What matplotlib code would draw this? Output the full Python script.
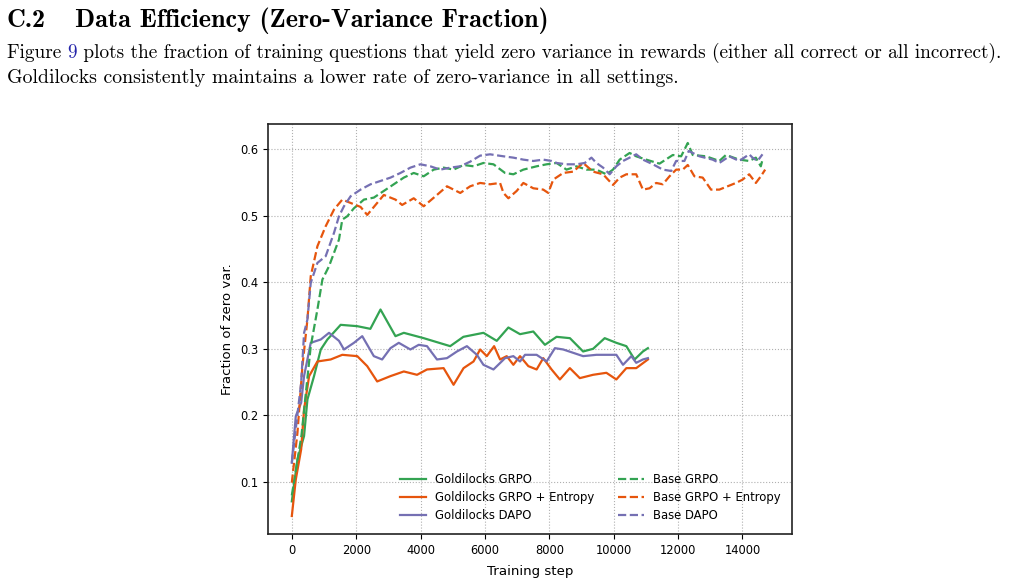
import matplotlib
matplotlib.use("Agg")
import matplotlib.pyplot as plt

# ---------------- data ----------------
gold_grpo_x = [0, 175, 380, 485, 690, 900, 1105, 1517, 2033, 2440, 2755, 3220, 3480, 4097, 4920, 5330,
               5953, 6367, 6728, 7090, 7502, 7864, 8226, 8640, 9050, 9360, 9721, 10083, 10393, 10650, 10908, 11063]
gold_grpo_y = [0.071, 0.134, 0.169, 0.224, 0.259, 0.299, 0.314, 0.336, 0.334, 0.330, 0.359, 0.319, 0.324, 0.316, 0.304, 0.318,
               0.324, 0.312, 0.332, 0.322, 0.326, 0.306, 0.318, 0.316, 0.296, 0.300, 0.316, 0.309, 0.304, 0.284, 0.296, 0.301]

gold_ent_x = [0, 124, 290, 380, 537, 795, 1207, 1568, 2033, 2342, 2652, 3065, 3480, 3890, 4200, 4716, 5025, 5336,
              5645, 5851, 6058, 6285, 6470, 6677, 6883, 7090, 7348, 7606, 7812, 8070, 8328, 8638, 8948, 9360, 9773,
              10083, 10393, 10700, 11063]
gold_ent_y = [0.049, 0.104, 0.149, 0.209, 0.259, 0.281, 0.284, 0.291, 0.289, 0.274, 0.251, 0.259, 0.266, 0.261, 0.269, 0.271, 0.246, 0.271,
              0.281, 0.299, 0.289, 0.304, 0.284, 0.289, 0.276, 0.289, 0.274, 0.269, 0.286, 0.269, 0.254, 0.271, 0.256, 0.261, 0.264,
              0.254, 0.271, 0.271, 0.284]

gold_dapo_x = [0, 124, 290, 380, 588, 900, 1156, 1465, 1620, 1930, 2188, 2548, 2806, 3065, 3323, 3684, 3943, 4200,
               4510, 4820, 5130, 5440, 5750, 5953, 6265, 6625, 6883, 7090, 7245, 7606, 7916, 8174, 8432, 8742, 9050,
               9463, 9876, 10083, 10290, 10548, 10700, 10908, 11063]
gold_dapo_y = [0.129, 0.199, 0.219, 0.259, 0.309, 0.314, 0.324, 0.312, 0.299, 0.309, 0.319, 0.289, 0.284, 0.301, 0.309, 0.299, 0.306, 0.304,
               0.284, 0.286, 0.296, 0.304, 0.291, 0.276, 0.269, 0.286, 0.289, 0.281, 0.291, 0.291, 0.281, 0.301, 0.299, 0.294, 0.289,
               0.291, 0.291, 0.291, 0.276, 0.289, 0.279, 0.284, 0.286]

base_grpo_x = [0, 300, 588, 795, 950, 1156, 1310, 1465, 1568, 1723, 1930, 2240, 2548, 2858, 3168, 3478, 3787, 4097,
               4407, 4716, 5025, 5336, 5645, 5953, 6265, 6625, 6883, 7193, 7606, 7916, 8226, 8535, 8845, 9154, 9463,
               9773, 9979, 10186, 10495, 10700, 11011, 11424, 11838, 12095, 12301, 12456, 12869, 13282, 13488, 13900,
               14210, 14416, 14571, 14623]
base_grpo_y = [0.080, 0.170, 0.304, 0.359, 0.404, 0.424, 0.444, 0.464, 0.494, 0.499, 0.511, 0.524, 0.527, 0.537, 0.547, 0.557, 0.564, 0.559,
               0.569, 0.572, 0.569, 0.576, 0.574, 0.579, 0.577, 0.564, 0.562, 0.569, 0.574, 0.577, 0.579, 0.569, 0.574, 0.569, 0.569,
               0.562, 0.569, 0.584, 0.594, 0.589, 0.584, 0.578, 0.591, 0.589, 0.609, 0.591, 0.589, 0.582, 0.591, 0.584,
               0.582, 0.587, 0.574, 0.584]

base_ent_x = [0, 175, 330, 485, 588, 795, 1052, 1310, 1568, 1826, 2136, 2343, 2652, 2858, 3220, 3427, 3787, 4097,
              4510, 4820, 5233, 5542, 5851, 6160, 6470, 6575, 6728, 6986, 7193, 7503, 7812, 7967, 8122, 8432, 8742,
              9050, 9360, 9670, 9979, 10186, 10393, 10700, 10908, 11114, 11320, 11527, 11734, 11940, 12146, 12301,
              12508, 12766, 13024, 13282, 13540, 13798, 14004, 14210, 14417, 14572, 14706]
base_ent_y = [0.099, 0.174, 0.274, 0.344, 0.409, 0.454, 0.484, 0.509, 0.524, 0.519, 0.513, 0.501, 0.519, 0.531, 0.524, 0.516, 0.526, 0.514,
              0.531, 0.544, 0.534, 0.544, 0.549, 0.547, 0.549, 0.534, 0.526, 0.537, 0.549, 0.541, 0.539, 0.534, 0.554, 0.564, 0.566,
              0.579, 0.566, 0.562, 0.546, 0.557, 0.562, 0.562, 0.539, 0.541, 0.549, 0.547, 0.559, 0.569, 0.569, 0.576,
              0.559, 0.557, 0.539, 0.539, 0.544, 0.549, 0.554, 0.562, 0.549, 0.559, 0.569]

base_dapo_x = [0, 290, 381, 485, 588, 795, 1052, 1310, 1465, 1620, 1826, 2136, 2446, 2755, 3065, 3375, 3684, 3994,
               4303, 4613, 4923, 5233, 5543, 5851, 6160, 6575, 6883, 7193, 7503, 7812, 8070, 8226, 8535, 8845, 9102,
               9309, 9463, 9670, 9876, 10083, 10290, 10495, 10700, 10908, 11218, 11528, 11786, 11940, 12198, 12332,
               12663, 13075, 13282, 13591, 13900, 14210, 14313, 14468, 14623]
base_dapo_y = [0.129, 0.249, 0.324, 0.344, 0.399, 0.429, 0.439, 0.474, 0.499, 0.514, 0.529, 0.539, 0.547, 0.552, 0.557, 0.564, 0.572, 0.577,
               0.574, 0.569, 0.572, 0.574, 0.581, 0.590, 0.592, 0.589, 0.587, 0.584, 0.582, 0.584, 0.582, 0.579, 0.577, 0.577, 0.579,
               0.587, 0.579, 0.572, 0.562, 0.574, 0.582, 0.587, 0.592, 0.584, 0.577, 0.569, 0.567, 0.582, 0.582, 0.597,
               0.589, 0.584, 0.579, 0.589, 0.582, 0.592, 0.587, 0.582, 0.592]

labels = ["Goldilocks GRPO", "Goldilocks GRPO + Entropy", "Goldilocks DAPO",
          "Base GRPO", "Base GRPO + Entropy", "Base DAPO"]
xlabel = "Training step"
ylabel = "Fraction of zero var."

heading_num = "C.2"
heading_txt = "Data Efficiency (Zero-Variance Fraction)"
para_pre = "Figure "
para_ref = "9"
para_line1 = " plots the fraction of training questions that yield zero variance in rewards (either all correct or all incorrect)."
para_line2 = "Goldilocks consistently maintains a lower rate of zero-variance in all settings."

C_GREEN = "#33a352"
C_ORANGE = "#e6550d"
C_PURPLE = "#7570b3"

# ---------------- figure ----------------
W, H = 1011, 584
fig = plt.figure(figsize=(W / 100, H / 100), dpi=100)

serif = ["cmr10", "DejaVu Serif"]
serif_b = ["cmb10", "DejaVu Serif"]

fig.text(7 / W, 1 - 27 / H, heading_num, fontsize=18.8, family=serif_b, ha="left", va="baseline")
fig.text(75 / W, 1 - 27 / H, heading_txt, fontsize=18.8, family=serif_b, ha="left", va="baseline")

fs1 = 13.9
t1 = fig.text(7 / W, 1 - 58 / H, para_pre, fontsize=fs1, family=serif, ha="left", va="baseline")
fig.canvas.draw()
r = fig.canvas.get_renderer()
bb = t1.get_window_extent(r)
t2 = fig.text(bb.x1 / W, 1 - 58 / H, para_ref, fontsize=fs1, family=serif, color="#2525aa",
              ha="left", va="baseline")
bb2 = t2.get_window_extent(r)
fig.text(bb2.x1 / W, 1 - 58 / H, para_line1, fontsize=fs1, family=serif, ha="left", va="baseline")
fig.text(7 / W, 1 - 83 / H, para_line2, fontsize=14.3, family=serif, ha="left", va="baseline")

ax = fig.add_axes([268 / W, 1 - 534 / H, (792 - 268) / W, (534 - 124) / H])

lw = 1.6
ax.plot(gold_grpo_x, gold_grpo_y, color=C_GREEN, lw=lw, label=labels[0])
ax.plot(gold_ent_x, gold_ent_y, color=C_ORANGE, lw=lw, label=labels[1])
ax.plot(gold_dapo_x, gold_dapo_y, color=C_PURPLE, lw=lw, label=labels[2])
ax.plot(base_grpo_x, base_grpo_y, color=C_GREEN, lw=lw, ls="--", label=labels[3])
ax.plot(base_ent_x, base_ent_y, color=C_ORANGE, lw=lw, ls="--", label=labels[4])
ax.plot(base_dapo_x, base_dapo_y, color=C_PURPLE, lw=lw, ls="--", label=labels[5])

ax.set_xlim(-740, 15540)
ax.set_ylim(0.022, 0.6375)
ax.set_xticks([0, 2000, 4000, 6000, 8000, 10000, 12000, 14000])
ax.set_yticks([0.1, 0.2, 0.3, 0.4, 0.5, 0.6])
ax.tick_params(labelsize=8.3, length=3.5, width=0.8)
ax.grid(True, ls=":", color="#b0b0b0", lw=0.8)
for s in ax.spines.values():
    s.set_linewidth(1.2)
    s.set_color("#222222")
ax.set_xlabel(xlabel, fontsize=9.6, labelpad=6)
ax.set_ylabel(ylabel, fontsize=9.5)

leg = ax.legend(ncol=2, fontsize=8.4, frameon=False, loc="lower right",
                bbox_to_anchor=(0.998, 0.003), columnspacing=2.0, handlelength=2.25,
                handletextpad=0.75, labelspacing=0.42)

fig.savefig("out.png", dpi=100)
